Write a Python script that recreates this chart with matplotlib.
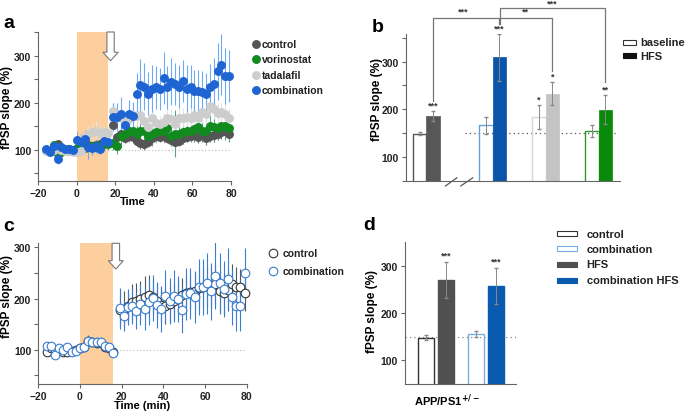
import numpy as np
import matplotlib
matplotlib.use("Agg")
import matplotlib.pyplot as plt
from matplotlib.patches import Rectangle

plt.rcParams['font.family'] = ['Liberation Sans', 'DejaVu Sans']
plt.rcParams['font.weight'] = 'bold'
plt.rcParams['axes.labelweight'] = 'bold'

W, H = 685, 414

# ---- panel a / c time grid
t_pre = np.arange(-16, 17, 2)
t_post = np.arange(19, 80, 2)
time = np.concatenate([t_pre, t_post])

# panel a series
a_control = [100, 97, 100, 112, 105, 100, 98, 100, 102, 105, 108, 110, 108, 110, 112, 115, 115,
             153, 128, 133, 125, 130, 128, 120, 115, 112, 118, 125, 130, 128, 130, 126, 122, 118,
             120, 125, 128, 130, 132, 128, 135, 125, 130, 132, 135, 138, 140, 135]
a_control_err = [4, 4, 5, 6, 5, 4, 4, 4, 5, 6, 8, 8, 8, 8, 8, 8, 8,
                 12, 10, 12, 10, 12, 12, 12, 12, 12, 12, 12, 12, 12, 12, 12, 12, 12,
                 12, 12, 12, 12, 14, 14, 14, 14, 14, 14, 14, 14, 14, 14]
a_vorinostat = [100, 98, 110, 92, 95, 100, 102, 100, 105, 106, 104, 106, 108, 106, 110, 112, 113,
                115, 109, 130, 134, 141, 140, 134, 141, 141, 130, 134, 138, 141, 141, 146, 130, 134,
                134, 138, 141, 141, 145, 148, 141, 141, 152, 148, 146, 150, 152, 146]
a_vorinostat_err = [5, 5, 6, 6, 5, 5, 5, 5, 8, 8, 8, 10, 10, 10, 10, 12, 12,
                    15, 18, 20, 20, 22, 20, 22, 20, 22, 20, 25, 22, 22, 25, 25, 22, 50,
                    25, 25, 25, 22, 25, 25, 25, 25, 25, 30, 25, 25, 30, 30]
a_tadalafil = [97, 98, 100, 105, 100, 98, 98, 96, 96, 98, 128, 135, 138, 141, 136, 138, 136,
               182, 177, 167, 162, 165, 174, 172, 175, 162, 148, 167, 157, 155, 159, 169, 166, 155,
               169, 169, 170, 169, 174, 169, 180, 177, 194, 187, 178, 180, 177, 168]
a_tadalafil_err = [4, 4, 5, 5, 5, 4, 4, 4, 5, 6, 15, 15, 18, 20, 15, 15, 12,
                   20, 18, 20, 18, 20, 22, 20, 20, 18, 18, 20, 18, 18, 20, 20, 22, 18,
                   20, 20, 20, 22, 22, 20, 22, 25, 22, 22, 22, 20, 22, 20]
a_combination = [102, 96, 108, 81, 106, 102, 103, 101, 122, 118, 123, 106, 104, 108, 103, 120, 118,
                 170, 170, 177, 153, 177, 172, 219, 238, 235, 220, 230, 233, 230, 253, 233, 245,
                 240, 235, 247, 230, 235, 226, 226, 224, 219, 233, 240, 267, 281, 257, 258]
a_combination_err = [6, 8, 8, 10, 8, 6, 6, 6, 18, 16, 20, 25, 15, 15, 12, 12, 10,
                     30, 30, 35, 25, 30, 30, 45, 55, 50, 45, 50, 45, 45, 55, 45, 50,
                     45, 45, 45, 50, 45, 45, 45, 45, 45, 50, 55, 60, 65, 60, 55]

# panel c series
c_control = [95, 104, 100, 100, 95, 95, 98, 100, 103, 106, 117, 115, 114, 114, 106, 104, 95,
             178, 180, 185, 193, 196, 200, 204, 206, 203, 195, 188, 186, 190, 195, 200, 206,
             210, 212, 215, 220, 222, 224, 222, 228, 214, 210, 216, 228, 222, 222, 210]
c_control_err = [5, 5, 5, 5, 5, 5, 5, 5, 6, 6, 8, 8, 8, 8, 6, 6, 6,
                 30, 35, 30, 35, 35, 35, 40, 40, 35, 35, 35, 35, 35, 35, 35, 35,
                 35, 35, 35, 40, 40, 40, 40, 40, 40, 40, 40, 40, 40, 35, 35]
c_combination = [106.5, 106.5, 90, 103, 100, 105, 95, 98, 103, 106, 118, 116, 116, 116, 107, 105, 93.5,
                 181, 166, 183, 185, 175, 189, 179, 194, 202, 187, 179, 205, 196, 205, 199, 177,
                 209, 210, 203, 222, 223, 230, 214, 245, 230, 218, 238, 203, 186, 186, 249]
c_combination_err = [5, 5, 5, 5, 5, 5, 5, 5, 6, 6, 10, 8, 8, 8, 6, 6, 6,
                     40, 30, 35, 35, 35, 40, 40, 45, 45, 45, 45, 50, 45, 50, 45, 45,
                     50, 50, 50, 55, 55, 60, 55, 65, 60, 55, 60, 55, 50, 50, 50]

# panel b bars
b_groups = ['control', 'combination', 'tadalafil', 'vorinostat']
b_baseline = [149, 166, 184, 154]
b_baseline_err = [3, 17, 25, 12]
b_hfs = [186, 309, 233, 199]
b_hfs_err = [11, 50, 25, 30]
b_hfs_stars = ['***', '***', '*', '**']
b_base_stars = ['', '', '*', '']

# panel d bars
d_labels = ['control', 'combination', 'HFS', 'combination HFS']
d_values = [148, 156, 270, 257]
d_err = [5, 7, 38, 38]

TICK_FS = 7.5
LAB_FS = 8.5
LEG_FS = 7.5

fig = plt.figure(figsize=(W / 100, H / 100), dpi=100)


def px_axes(l, t, r, b):
    return fig.add_axes([l / W, 1 - b / H, (r - l) / W, (b - t) / H])


def style(ax, yticks):
    for s in ['top', 'right']:
        ax.spines[s].set_visible(False)
    for s in ['left', 'bottom']:
        ax.spines[s].set_color('#666666')
        ax.spines[s].set_linewidth(0.8)
    ax.tick_params(length=3, width=0.8, color='#666666', labelsize=TICK_FS, labelcolor='#222222', pad=2)
    ax.set_yticks(yticks)
    ax.set_yticklabels([str(v) if v % 100 == 0 else '' for v in yticks])


def arrow(ax, xc, ytop, yneck, ytip, hw_shaft, hw_head):
    xs = [xc - hw_shaft, xc + hw_shaft, xc + hw_shaft, xc + hw_head, xc, xc - hw_head, xc - hw_shaft]
    ys = [ytop, ytop, yneck, yneck, ytip, yneck, yneck]
    ax.fill(xs, ys, facecolor='white', edgecolor='#777777', lw=0.8, zorder=6, clip_on=False)


shade = '#fdcf9e'

# ---------------- panel a
ax = px_axes(38.3, 33, 231, 182)
ax.set_xlim(-20, 80)
ax.set_ylim(34, 351)
ax.axvspan(0, 16, color=shade, zorder=0, lw=0)
ax.hlines(100, 16, 80, colors='#bbbbbb', linestyles=(0, (1, 2)), lw=0.8, zorder=1)
series_a = [
    (a_control, a_control_err, '#555555', '#777777'),
    (a_vorinostat, a_vorinostat_err, '#118a1e', '#5aa38a'),
    (a_tadalafil, a_tadalafil_err, '#cdcdcd', '#e2e2e2'),
    (a_combination, a_combination_err, '#1e64d2', '#6eaaf0'),
]
for vals, err, col, ecol in series_a:
    ax.errorbar(time, vals, yerr=err, fmt='none', ecolor=ecol, elinewidth=0.8, zorder=2)
for vals, err, col, ecol in series_a:
    ax.plot(time, vals, 'o', ms=5.4, color=col, mec=col, zorder=3, clip_on=False)
arrow(ax, 17.5, 351, 308, 290, 1.9, 4.0)
style(ax, [50, 100, 150, 200, 250, 300, 350])
ax.set_xticks([-20, 0, 20, 40, 60, 80])
ax.set_ylabel('fPSP slope (%)', fontsize=LAB_FS)
ax.yaxis.set_label_coords(-0.133, 0.5)
ax.set_xlabel('Time', fontsize=8)
ax.xaxis.set_label_coords(0.49, -0.1)

# ---------------- panel c
ax = px_axes(38.3, 244.3, 246.7, 385)
ax.set_xlim(-20, 80)
ax.set_ylim(33, 308)
ax.axvspan(0, 16, color=shade, zorder=0, lw=0)
ax.hlines(100, 16, 80, colors='#bbbbbb', linestyles=(0, (1, 2)), lw=0.8, zorder=1)
ax.errorbar(time, c_control, yerr=c_control_err, fmt='none', ecolor='#555555', elinewidth=0.8, zorder=2)
ax.errorbar(time, c_combination, yerr=c_combination_err, fmt='none', ecolor='#3a7cd0', elinewidth=0.8, zorder=2)
ax.plot(time, c_control, 'o', ms=6.2, mfc='white', mec='#333333', mew=0.8, zorder=3, clip_on=False)
ax.plot(time, c_combination, 'o', ms=6.2, mfc='white', mec='#3a7cd0', mew=0.8, zorder=4, clip_on=False)
arrow(ax, 17.2, 308, 274, 257.6, 1.8, 3.6)
style(ax, [50, 100, 150, 200, 250, 300])
ax.set_xticks([-20, 0, 20, 40, 60, 80])
ax.set_ylabel('fPSP slope (%)', fontsize=LAB_FS)
ax.yaxis.set_label_coords(-0.122, 0.63)
ax.set_xlabel('Time (min)', fontsize=8)
ax.xaxis.set_label_coords(0.5, -0.115)

# ---------------- panel b
ax = px_axes(405.7, 35, 620, 181.7)
ax.set_xlim(-1.55, 14.6)
ax.set_ylim(50, 358)
pos = np.array([0, 5, 9, 13])
base_edge = ['#555555', '#6aa0da', '#d6d6d6', '#2a9a2a']
hfs_fill = ['#575757', '#0a55aa', '#c4c4c4', '#0a8a0a']
ax.hlines(150, 2.9, 14.3, colors='#555555', linestyles=(0, (1, 2.5)), lw=0.9, zorder=1.5)
ax.bar(pos - 0.5, b_baseline, width=1, bottom=0, facecolor='none', edgecolor=base_edge, lw=1, zorder=2)
ax.bar(pos + 0.5, b_hfs, width=1, color=hfs_fill, edgecolor=hfs_fill, lw=0.5, zorder=2)
ax.errorbar(pos - 0.5, b_baseline, yerr=b_baseline_err, fmt='none', ecolor='#888888', elinewidth=0.7, capsize=1.5, zorder=3)
ax.errorbar(pos + 0.5, b_hfs, yerr=b_hfs_err, fmt='none', ecolor='#888888', elinewidth=0.7, capsize=1.5, zorder=3)
for x, v, e, s in zip(pos + 0.5, b_hfs, b_hfs_err, b_hfs_stars):
    ax.text(x, v + e + 3, s, ha='center', va='bottom', fontsize=6.5, color='#333333')
for x, v, e, s in zip(pos - 0.5, b_baseline, b_baseline_err, b_base_stars):
    if s:
        ax.text(x, v + e + 3, s, ha='center', va='bottom', fontsize=6.5, color='#333333')
# comparison brackets
bk = dict(color='#777777', lw=0.9, clip_on=False)
ax.plot([0.5, 0.5, 5.45, 5.45], [217, 392, 392, 379], **bk)
ax.plot([5.55, 5.55, 9.5, 9.5], [379, 392, 392, 281], **bk)
ax.plot([5.55, 5.55, 13.5, 13.5], [392, 413, 413, 257], **bk)
ax.text(2.8, 396, '***', ha='center', va='bottom', fontsize=6.5, color='#333333')
ax.text(7.45, 396, '**', ha='center', va='bottom', fontsize=6.5, color='#333333')
ax.text(9.5, 414, '***', ha='center', va='bottom', fontsize=6.5, color='#333333')
# axis break marks
ax.plot([1.45, 2.3], [39, 56], color='#555555', lw=0.9, clip_on=False)
ax.plot([2.6, 3.5], [39, 56], color='#555555', lw=0.9, clip_on=False)
style(ax, [50, 100, 150, 200, 250, 300, 350])
ax.set_xticks([])
ax.set_ylabel('fPSP slope (%)', fontsize=LAB_FS)
ax.yaxis.set_label_coords(-0.106, 0.557)

# ---------------- panel d
ax = px_axes(405, 243.3, 515.7, 385)
ax.set_xlim(0, 6.92)
ax.set_ylim(50, 350)
dpos = np.array([1.33, 4.42, 2.59, 5.67])
d_face = ['none', 'none', '#505050', '#0a5bb0']
d_edge = ['#333333', '#7aaee0', '#505050', '#0a5bb0']
ax.hlines(150, 0, 6.92, colors='#888888', linestyles=(0, (1, 2.5)), lw=0.9, zorder=1.5)
ax.bar(dpos, d_values, width=1, facecolor=d_face, edgecolor=d_edge, lw=1, zorder=2)
ax.errorbar(dpos, d_values, yerr=d_err, fmt='none', ecolor='#888888', elinewidth=0.7, capsize=1.5, zorder=3)
for x, v, e in zip(dpos[2:], d_values[2:], d_err[2:]):
    ax.text(x, v + e + 6, '***', ha='center', va='bottom', fontsize=6.5, color='#333333')
style(ax, [100, 200, 300])
ax.set_xticks([])
ax.set_ylabel('fPSP slope (%)', fontsize=LAB_FS)
ax.yaxis.set_label_coords(-0.245, 0.517)
ax.set_xlabel(r'APP/PS1$^{+/-}$', fontsize=8)
ax.xaxis.set_label_coords(0.377, -0.05)

# ---------------- overlay: legends, panel letters
ov = fig.add_axes([0, 0, 1, 1], zorder=10)
ov.set_xlim(0, W)
ov.set_ylim(H, 0)
ov.axis('off')

ov.text(3.5, 28.5, 'a', fontsize=14, fontweight='bold', va='baseline')
ov.text(371.5, 31.5, 'b', fontsize=14, fontweight='bold', va='baseline')
ov.text(3, 231, 'c', fontsize=14, fontweight='bold', va='baseline')
ov.text(363, 230, 'd', fontsize=14, fontweight='bold', va='baseline')

a_legend = ['control', 'vorinostat', 'tadalafil', 'combination']
for (vals, err, col, ecol), lab, y in zip(series_a, a_legend, [44.7, 60.3, 75.7, 91.3]):
    ov.plot(256, y, 'o', ms=5.4, color=col)
    ov.text(261.5, y, lab, fontsize=LEG_FS, va='center', color='#222222')

for lab, ec, y in zip(['control', 'combination'], ['#333333', '#3a7cd0'], [254, 271.7]):
    ov.plot(273.3, y, 'o', ms=6.2, mfc='white', mec=ec, mew=0.8)
    ov.text(282.5, y, lab, fontsize=LEG_FS, va='center', color='#222222')

ov.add_patch(Rectangle((623.3, 40.7), 12.7, 5, facecolor='white', edgecolor='#333333', lw=0.8))
ov.add_patch(Rectangle((623.3, 54.3), 12.7, 4.8, facecolor='#111111', edgecolor='#111111', lw=0.8))
ov.text(640.5, 43.2, 'baseline', fontsize=8, va='center', color='#222222')
ov.text(640.5, 56.7, 'HFS', fontsize=8, va='center', color='#222222')

for lab, fc, ec, y in zip(d_labels, ['white', 'white', '#505050', '#0a5bb0'],
                          ['#333333', '#7aaee0', '#505050', '#0a5bb0'], [234.7, 249.7, 265, 281]):
    ov.add_patch(Rectangle((556.7, y - 2.5), 20, 5, facecolor=fc, edgecolor=ec, lw=0.8))
    ov.text(586.7, y, lab, fontsize=8, va='center', color='#222222')

fig.savefig('out.png', dpi=100)
